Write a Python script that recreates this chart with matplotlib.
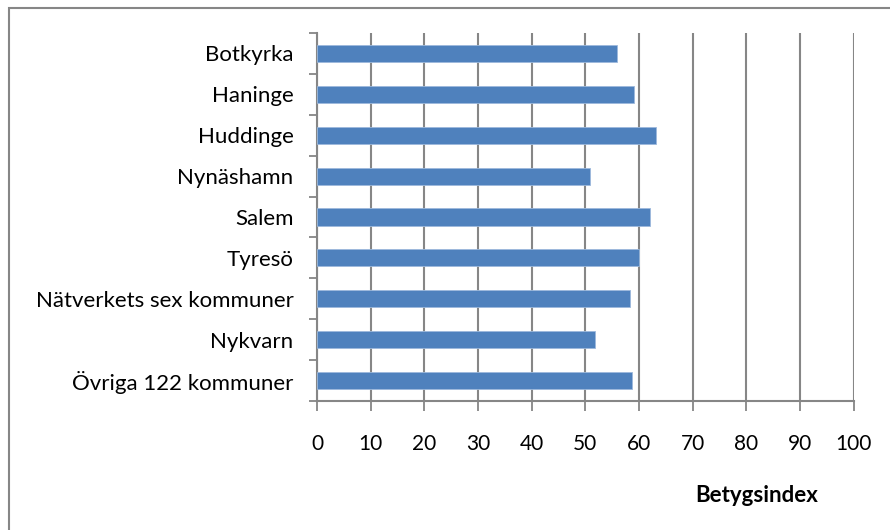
import matplotlib
matplotlib.use('Agg')
import matplotlib.pyplot as plt
from matplotlib.patches import Rectangle
import numpy as np

plt.rcParams['font.family'] = ['Lato', 'DejaVu Sans']

kommuner = ['Botkyrka', 'Haninge', 'Huddinge', 'Nynäshamn', 'Salem', 'Tyresö',
            'Nätverkets sex kommuner', 'Nykvarn', 'Övriga 122 kommuner']
betygsindex = [56.0, 59.1, 63.2, 50.9, 62.1, 60.0, 58.4, 51.9, 58.7]
xticks = [0, 10, 20, 30, 40, 50, 60, 70, 80, 90, 100]

grid_col = '#868686'
bar_col = '#4F81BD'

fig = plt.figure(figsize=(8.9, 5.3), dpi=100)
ax = fig.add_axes([317 / 890, 1 - 401 / 530, (853.5 - 317) / 890, (401 - 33) / 530])

pos = np.arange(len(kommuner))
ax.barh(pos, betygsindex, height=0.42, color=bar_col, edgecolor='#9DB9DC', linewidth=0.6, zorder=3)

ax.set_xlim(0, 100)
ax.set_ylim(len(kommuner) - 0.5, -0.5)
ax.set_xticks(xticks)
ax.set_xticklabels([str(t) for t in xticks], fontsize=15)
ax.set_yticks(pos)
ax.set_yticklabels(kommuner, fontsize=16)
ax.set_yticks(np.arange(len(kommuner) + 1) - 0.5, minor=True)

ax.tick_params(axis='y', which='major', length=0, pad=17, colors='black')
ax.tick_params(axis='y', which='minor', length=6, width=1.3, color=grid_col, direction='out')
ax.tick_params(axis='x', length=7, width=1.3, color=grid_col, direction='out', pad=17)

ax.xaxis.grid(True, color=grid_col, linewidth=1.5, zorder=0)
ax.set_axisbelow(True)
for side in ['top', 'right']:
    ax.spines[side].set_visible(False)
for side in ['left', 'bottom']:
    ax.spines[side].set_color(grid_col)
    ax.spines[side].set_linewidth(1.5)

fig.text(757 / 890, 1 - 495 / 530, 'Betygsindex', fontsize=16, fontweight='bold',
         ha='center', va='center')

# ram runt diagrammet
fig.patches.append(Rectangle((8.5 / 890, -0.1), 1.2, (530 - 7.5) / 530 + 0.1,
                             transform=fig.transFigure, fill=False,
                             edgecolor=grid_col, linewidth=1.5))

fig.savefig('out.png', dpi=100)
